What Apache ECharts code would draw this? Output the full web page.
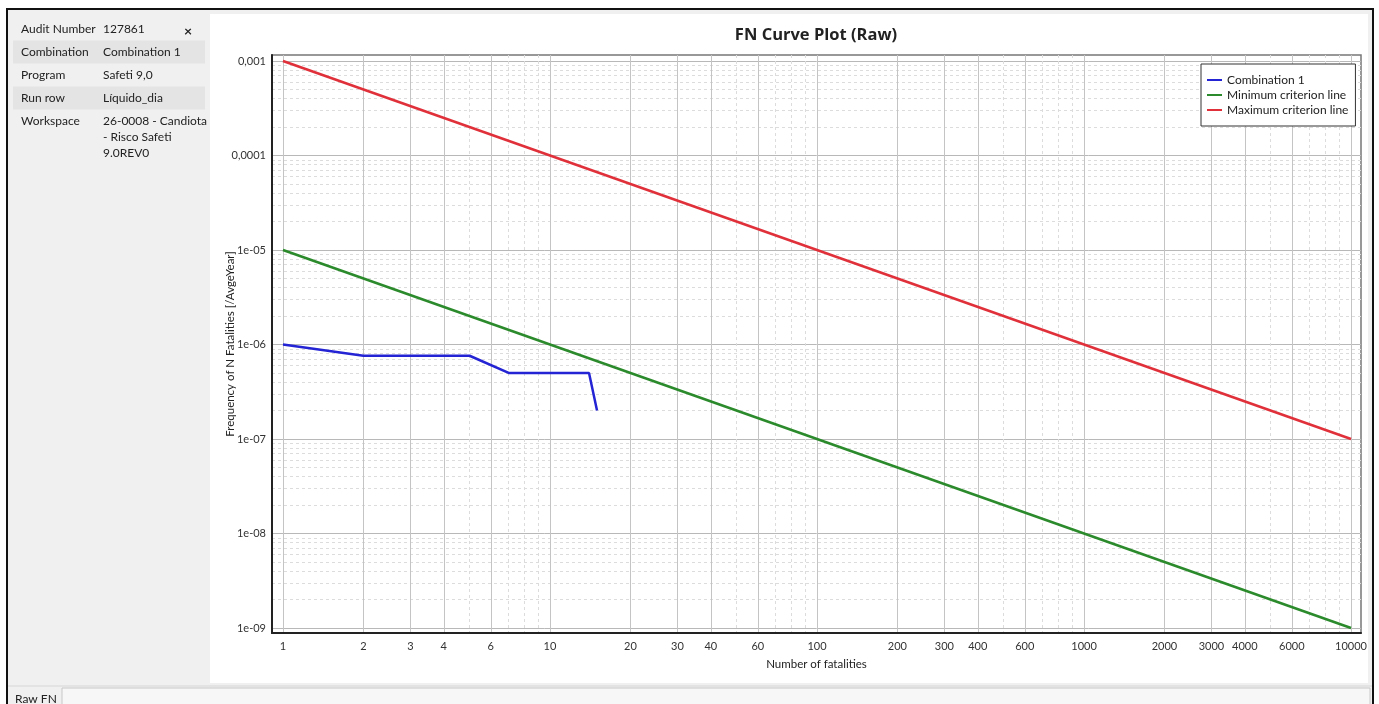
<!DOCTYPE html>
<html>
<head>
<meta charset="utf-8">
<title>FN Curve Plot (Raw)</title>
<script src="https://cdn.jsdelivr.net/npm/echarts@6/dist/echarts.min.js"></script>
<style>
  html, body { margin: 0; padding: 0; background: #fff; }
  #main { width: 1379px; height: 704px; }
</style>
</head>
<body>
<div id="main"></div>
<script>
// tick labels on the axes
var xTickLabels = [1, 2, 3, 4, 6, 10, 20, 30, 40, 60, 100, 200, 300, 400, 600, 1000, 2000, 3000, 4000, 6000, 10000];
var xMinorTicks = [5, 7, 8, 9, 50, 70, 80, 90, 500, 700, 800, 900, 5000, 7000, 8000, 9000];
var yTickValues = [1e-3, 1e-4, 1e-5, 1e-6, 1e-7, 1e-8, 1e-9];
var yTickLabels = ['0,001', '0,0001', '1e-05', '1e-06', '1e-07', '1e-08', '1e-09'];

// FN curve (Combination 1)
var comboN = [1, 2, 5, 7, 14, 15];
var comboFreq = [1e-6, 7.6e-7, 7.6e-7, 5e-7, 5e-7, 2e-7];
// criterion lines
var minLineN = [1, 10000];
var minLineFreq = [1e-5, 1e-9];
var maxLineN = [1, 10000];
var maxLineFreq = [1e-3, 1e-7];

// info panel
var infoKeys = ['Audit Number', 'Combination', 'Program', 'Run row', 'Workspace'];
var infoValues = ['127861', 'Combination 1', 'Safeti 9,0', 'L\u00edquido_dia', '26-0008 - Candiota\n- Risco Safeti\n9.0REV0'];

var FONT = 'Lato, "Open Sans", sans-serif';
var chart = echarts.init(document.getElementById('main'));

function lg(v) { return Math.log10(v); }
function toPoints(ns, fs) {
    return ns.map(function(n, i) { return [lg(n), lg(fs[i])]; });
}

// minor horizontal lines 2..9 inside each decade
var yMinorTicks = [];
for (var e = -9; e < -3; e++) {
    for (var k = 2; k <= 9; k++) yMinorTicks.push(lg(k * Math.pow(10, e)));
}

var xMin = -0.0412, xMax = 4.0374;
var yMin = -9.053, yMax = -2.9365;

// left panel + frame
var graphics = [
    { type: 'rect', z: -20, shape: { x: 7, y: 9, width: 1366, height: 700 },
      style: { fill: '#f0f0f0', stroke: '#111', lineWidth: 2 } },
    { type: 'rect', z: -19, shape: { x: 210, y: 14, width: 1158, height: 669 },
      style: { fill: '#fff' } },
    { type: 'line', z: -19, shape: { x1: 8, y1: 686, x2: 1372, y2: 686 },
      style: { stroke: '#d6d6d6', lineWidth: 1 } },
    { type: 'rect', z: -19, shape: { x: 62, y: 688, width: 1308, height: 20 },
      style: { fill: '#f7f7f7', stroke: '#c8c8c8', lineWidth: 1 } },
    { type: 'text', z: 5, style: { x: 15, y: 699, text: 'Raw FN', font: '12px ' + FONT, fill: '#222', verticalAlign: 'middle' } },
    { type: 'text', z: 5, style: { x: 188, y: 31, text: '\u00d7', font: 'bold 14px ' + FONT, fill: '#222', align: 'center', verticalAlign: 'middle' } }
];
var rowY = [29, 52, 75, 98, 121];
infoKeys.forEach(function(key, i) {
    if (i % 2 === 1) {
        graphics.push({ type: 'rect', z: -18, shape: { x: 13, y: rowY[i] - 11.5, width: 192, height: 23 },
            style: { fill: '#e4e4e4' } });
    }
    graphics.push({ type: 'text', z: 5, style: { x: 21, y: rowY[i] - 8, text: key, font: '12px ' + FONT, fill: '#222', lineHeight: 16 } });
    graphics.push({ type: 'text', z: 5, style: { x: 103, y: rowY[i] - 8, text: infoValues[i], font: '12px ' + FONT, fill: '#222', lineHeight: 16 } });
});

var option = {
    animation: false,
    textStyle: { fontFamily: FONT },
    title: {
        text: 'FN Curve Plot (Raw)',
        left: 816,
        top: 27,
        padding: 0,
        textAlign: 'center',
        textStyle: { fontSize: 16.5, fontWeight: 'bold', color: '#222', fontFamily: '"Open Sans", sans-serif' }
    },
    legend: {
        orient: 'vertical',
        left: 1201,
        top: 64,
        padding: [9, 7, 9, 6],
        itemGap: 1,
        itemWidth: 15,
        itemHeight: 2,
        icon: 'rect',
        backgroundColor: '#fff',
        borderColor: '#333',
        borderWidth: 1,
        textStyle: { fontSize: 12, color: '#222', lineHeight: 14, fontFamily: FONT },
        data: ['Combination 1', 'Minimum criterion line', 'Maximum criterion line']
    },
    grid: {
        left: 272, right: 18, top: 55, bottom: 71,
        show: true,
        backgroundColor: '#fff',
        borderColor: '#777',
        borderWidth: 1.5
    },
    graphic: graphics,
    xAxis: [{
        type: 'value',
        min: xMin, max: xMax,
        name: 'Number of fatalities',
        nameLocation: 'middle',
        nameGap: 25,
        nameMoveOverlap: false,
        nameTextStyle: { fontSize: 11.5, color: '#222' },
        axisLine: { show: true, onZero: false, lineStyle: { color: '#222', width: 2 } },
        axisTick: { show: false, customValues: xTickLabels.map(lg) },
        axisLabel: {
            customValues: xTickLabels.map(lg),
            margin: 8,
            fontSize: 11,
            color: '#333',
            formatter: function(v) { return String(Math.round(Math.pow(10, v))); }
        },
        splitLine: { show: true, lineStyle: { color: '#c4c4c4', width: 1 } }
    }, {
        type: 'value',
        min: xMin, max: xMax,
        axisLine: { show: false },
        axisTick: { show: false, customValues: xMinorTicks.map(lg) },
        axisLabel: { show: false },
        splitLine: { show: true, lineStyle: { color: '#dcdcdc', width: 1, type: [3, 3] } }
    }],
    yAxis: [{
        type: 'value',
        min: yMin, max: yMax,
        name: 'Frequency of N Fatalities [/AvgeYear]',
        nameLocation: 'middle',
        nameRotate: 90,
        nameGap: 36,
        nameMoveOverlap: false,
        nameTextStyle: { fontSize: 11.5, color: '#222' },
        axisLine: { show: true, onZero: false, lineStyle: { color: '#222', width: 2 } },
        axisTick: { show: false, customValues: yTickValues.map(lg) },
        axisLabel: {
            customValues: yTickValues.map(lg),
            margin: 6,
            fontSize: 11,
            color: '#333',
            formatter: function(v) {
                for (var i = 0; i < yTickValues.length; i++) {
                    if (Math.abs(lg(yTickValues[i]) - v) < 1e-6) return yTickLabels[i];
                }
                return '';
            }
        },
        splitLine: { show: true, lineStyle: { color: '#b8b8b8', width: 1 } }
    }, {
        type: 'value',
        min: yMin, max: yMax,
        axisLine: { show: false },
        axisTick: { show: false, customValues: yMinorTicks },
        axisLabel: { show: false },
        splitLine: { show: true, lineStyle: { color: '#dcdcdc', width: 1, type: [3, 3] } }
    }],
    series: [{
        name: 'Combination 1',
        type: 'line',
        symbol: 'none',
        color: '#2424d4',
        lineStyle: { width: 2.5 },
        data: toPoints(comboN, comboFreq)
    }, {
        name: 'Minimum criterion line',
        type: 'line',
        symbol: 'none',
        color: '#2b8a2b',
        lineStyle: { width: 2.5 },
        data: toPoints(minLineN, minLineFreq)
    }, {
        name: 'Maximum criterion line',
        type: 'line',
        symbol: 'none',
        color: '#e0303a',
        lineStyle: { width: 2.5 },
        data: toPoints(maxLineN, maxLineFreq)
    }]
};

chart.setOption(option);
</script>
</body>
</html>
